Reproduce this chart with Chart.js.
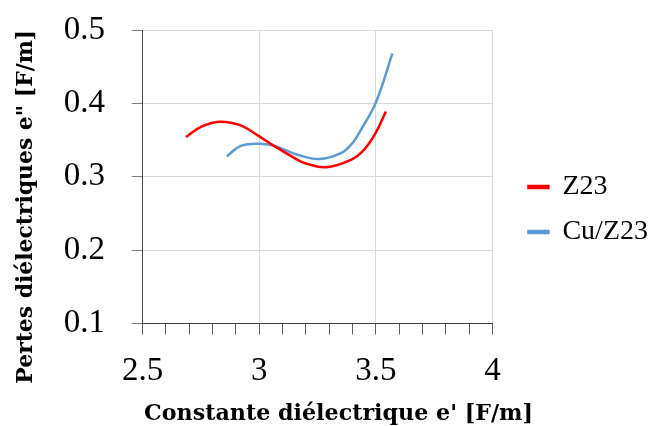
<!DOCTYPE html>
<html>
<head>
<meta charset="utf-8">
<script src="https://cdn.jsdelivr.net/npm/chart.js@4/dist/chart.umd.min.js"></script>
<style>
  html, body { margin: 0; padding: 0; background: #fff; }
  #wrap { width: 655px; height: 426px; }
</style>
</head>
<body>
<div id="wrap"><canvas id="dielChart"></canvas></div>
<script>
// valeurs
const z23X = [2.686, 2.75, 2.828, 2.92, 3.0, 3.064, 3.164, 3.2, 3.286, 3.393, 3.45, 3.5, 3.543];
const z23Y = [0.354, 0.368, 0.375, 0.370, 0.355, 0.342, 0.323, 0.318, 0.313, 0.323, 0.337, 0.360, 0.389];

const cuX = [2.861, 2.921, 3.0, 3.064, 3.164, 3.257, 3.35, 3.4, 3.436, 3.5, 3.571];
const cuY = [0.328, 0.342, 0.345, 0.342, 0.330, 0.324, 0.332, 0.346, 0.364, 0.401, 0.468];

const seriesNames = ["Z23", "Cu/Z23"];
const xTickLabels = ["2.5", "3", "3.5", "4"];
const xTitle = "Constante diélectrique e' [F/m]";
const yTitle = "Pertes diélectriques e\" [F/m]";

const serif = "'Liberation Serif', serif";
const legendGap = 16; // espace entre la zone de tracé et la légende

function toPoints(xs, ys) {
    return xs.map((x, i) => ({ x: x, y: ys[i] }));
}

function isMajor(v) {
    return Math.abs(v * 2 - Math.round(v * 2)) < 1e-6;
}

// élargit la légende puis décale son contenu vers la droite
const legendShift = {
    id: "legendShift",
    beforeInit(chart) {
        const origFit = chart.legend.fit;
        chart.legend.fit = function () {
            origFit.call(this);
            this.width += legendGap;
        };
    },
    afterLayout(chart) {
        chart.legend.left += legendGap + 3;
        chart.legend.top += 11;
    },
};

// titres des axes (décalés comme sur la figure d'origine)
const axisTitles = {
    id: "axisTitles",
    afterDraw(chart) {
        const { ctx, chartArea } = chart;
        ctx.save();
        ctx.fillStyle = "#000";
        ctx.textAlign = "center";
        ctx.textBaseline = "alphabetic";
        ctx.font = "bold 22.2px 'DejaVu Serif', serif";
        ctx.fillText(xTitle, (chartArea.left + chartArea.right) / 2 + 21, chart.height - 6);
        ctx.translate(32, (chartArea.top + chartArea.bottom) / 2 + 30);
        ctx.rotate(-Math.PI / 2);
        ctx.font = "bold 21.9px 'DejaVu Serif', serif";
        ctx.fillText(yTitle, 0, 0);
        ctx.restore();
    },
};

const ctx = document.getElementById("dielChart").getContext("2d");

new Chart(ctx, {
    type: "scatter",
    data: {
        datasets: [
            {
                label: seriesNames[0],
                data: toPoints(z23X, z23Y),
                showLine: true,
                borderColor: "#ff0000",
                backgroundColor: "#ff0000",
                borderWidth: 2.5,
                pointRadius: 0,
                tension: 0.4,
            },
            {
                label: seriesNames[1],
                data: toPoints(cuX, cuY),
                showLine: true,
                borderColor: "#5b9bd5",
                backgroundColor: "#5b9bd5",
                borderWidth: 2.5,
                pointRadius: 0,
                tension: 0.4,
            },
        ],
    },
    plugins: [legendShift, axisTitles],
    options: {
        responsive: true,
        maintainAspectRatio: false,
        animation: false,
        layout: { padding: { left: 37, right: 0, top: 0, bottom: 18 } },
        scales: {
            x: {
                type: "linear",
                min: 2.5,
                max: 4,
                border: { color: "#404040", width: 1 },
                grid: {
                    color: (c) => (isMajor(c.tick.value) ? "#d9d9d9" : "rgba(0,0,0,0)"),
                    tickColor: "#606060",
                    tickLength: 11,
                },
                ticks: {
                    stepSize: 0.1,
                    autoSkip: false,
                    maxRotation: 0,
                    minRotation: 0,
                    padding: 17,
                    color: "#000",
                    font: { family: serif, size: 33 },
                    callback: (val) => {
                        if (!isMajor(val)) return "";
                        return xTickLabels[Math.round((val - 2.5) * 2)];
                    },
                },
            },
            y: {
                min: 0.1,
                max: 0.5,
                border: { color: "#404040", width: 1 },
                grid: {
                    color: "#d9d9d9",
                    tickColor: "#808080",
                    tickLength: 11,
                },
                ticks: {
                    stepSize: 0.1,
                    padding: 26.7,
                    color: "#000",
                    font: { family: serif, size: 33, lineHeight: 0.2 },
                    callback: (val) => val.toFixed(1),
                },
            },
        },
        plugins: {
            legend: {
                display: true,
                position: "right",
                labels: {
                    boxWidth: 20,
                    boxHeight: 2,
                    padding: 17,
                    color: "#000",
                    font: { family: serif, size: 28 },
                },
            },
            tooltip: { enabled: false },
        },
    },
});
</script>
</body>
</html>
